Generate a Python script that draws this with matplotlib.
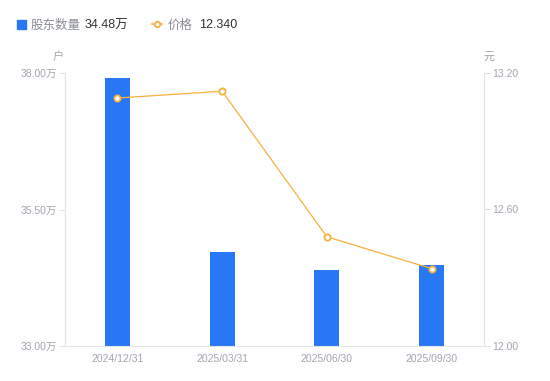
import matplotlib.pyplot as plt
from matplotlib.lines import Line2D

plt.rcParams['font.family'] = ['Liberation Sans', 'Noto Sans CJK SC', 'DejaVu Sans']

dates = ["2024/12/31", "2025/03/31", "2025/06/30", "2025/09/30"]
holders = [37.91, 34.72, 34.39, 34.48]   # 万户
prices = [13.09, 13.12, 12.48, 12.34]    # 元

BLUE = "#2878f5"
ORANGE = "#f7b13f"
GRAY = "#a3a6b0"
AXIS = "#e3e4e8"

fig = plt.figure(figsize=(5.5, 3.81), dpi=100)
ax = fig.add_axes([65 / 550, 35 / 381, 419 / 550, 273 / 381])
ax2 = ax.twinx()

x = list(range(len(dates)))
ax.bar(x, holders, width=0.24, color=BLUE, zorder=2)
ax.set_xlim(-0.5, len(dates) - 0.5)
ax.set_ylim(33, 38)
ax.set_yticks([33, 35.5, 38])
ax.set_yticklabels([f"{v:.2f}万" for v in [33, 35.5, 38]])
ax.set_xticks(x)
ax.set_xticklabels(dates)

ax2.plot(x, prices, color=ORANGE, lw=0.9, marker="o", ms=4.5,
         mfc="white", mec=ORANGE, mew=1.3, zorder=3)
ax2.set_ylim(12.0, 13.2)
ax2.set_yticks([12.0, 12.6, 13.2])
ax2.set_yticklabels([f"{v:.2f}" for v in [12.0, 12.6, 13.2]])

for a in (ax, ax2):
    for s in a.spines.values():
        s.set_visible(False)
    a.tick_params(colors=GRAY, labelsize=7.5, length=4, width=0.8, pad=2)
ax.spines["left"].set_visible(True)
ax.spines["left"].set_color(AXIS)
ax.spines["bottom"].set_visible(True)
ax.spines["bottom"].set_color(AXIS)
ax2.spines["right"].set_visible(True)
ax2.spines["right"].set_color(AXIS)
ax.tick_params(axis="y", color=AXIS, labelcolor=GRAY)
ax2.tick_params(axis="y", color=AXIS, labelcolor=GRAY)
ax.tick_params(axis="x", length=0, pad=6)

fig.text(58 / 550, 1 - 57 / 381, "户", color=GRAY, fontsize=8, ha="center", va="center")
fig.text(489 / 550, 1 - 57 / 381, "元", color=GRAY, fontsize=8, ha="center", va="center")

# legend row
ly = 1 - 25.5 / 381
fig.patches.append(plt.Rectangle((17 / 550, 1 - 29 / 381), 9 / 550, 9 / 381,
                                 transform=fig.transFigure, color=BLUE))
fig.text(31 / 550, ly, "股东数量", color="#8a8d96", fontsize=9, va="center")
fig.text(85 / 550, ly, f"{holders[-1]:.2f}万", color="#333333", fontsize=9, va="center")
fig.lines.append(Line2D([152 / 550, 162 / 550], [1 - 24 / 381] * 2, transform=fig.transFigure,
                        color=ORANGE, lw=1.2))
fig.lines.append(Line2D([157 / 550], [1 - 24 / 381], transform=fig.transFigure, marker="o",
                        ms=4, mfc="white", mec=ORANGE, mew=1.3))
fig.text(168 / 550, ly, "价格", color="#8a8d96", fontsize=9, va="center")
fig.text(199 / 550, ly, f"{prices[-1]:.3f}", color="#333333", fontsize=9, va="center")

fig.savefig("out.png", dpi=100)
